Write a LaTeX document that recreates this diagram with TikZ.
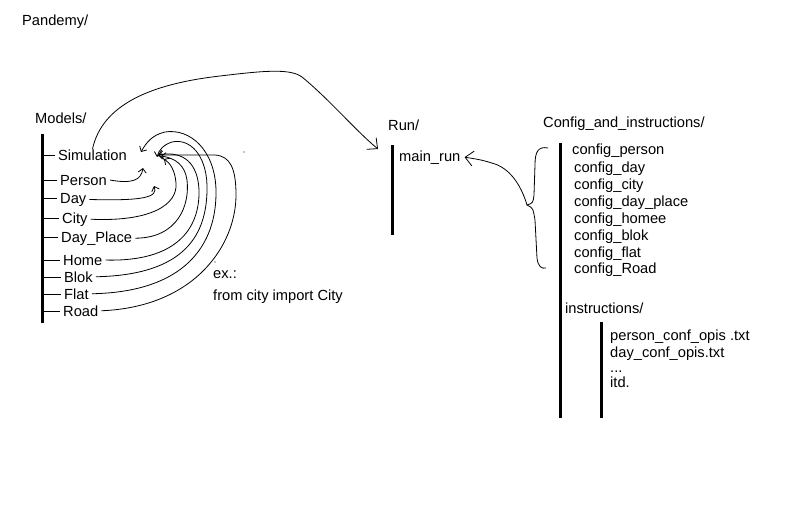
\documentclass[tikz,border=0pt]{standalone}
\usepackage{fontspec}
\setmainfont{Liberation Sans}
\usetikzlibrary{arrows.meta}

\tikzset{
  lbl/.style={anchor=base west, inner sep=0pt, font=\fontsize{14.67}{17}\selectfont},
  bar/.style={line width=3pt},
  wire/.style={line width=0.8pt},
  tip/.style={wire, -{Straight Barb[length=4pt,width=8pt]}},
  bigtip/.style={wire, -{Straight Barb[length=8pt,width=15pt]}},
}

\begin{document}
\begin{tikzpicture}[x=1pt,y=-1pt]
  \useasboundingbox (0,0) rectangle (804,515);

  % Root folder
  \node[lbl] (pandemy) at (22,25) {Pandemy/};

  % Models folder
  \node[lbl] (models) at (35,123) {Models/};
  \draw[bar] (42,134) -- (42,323);
  \foreach \name/\txt/\x/\y in {sim/Simulation/58/160, person/Person/60/185, day/Day/60/203, city/City/62/223, dayplace/Day\_Place/61/242, home/Home/63/265, blok/Blok/64/282, flat/Flat/64/299, road/Road/63/316} {
    \node[lbl] (\name) at (\x,\y) {\txt};
    \draw[wire] (43,\y-5) -- (\x-3,\y-5);
  }

  % Run folder
  \node[lbl] (run) at (388,130) {Run/};
  \draw[bar] (392,145) -- (392,235);
  \node[lbl] (mainrun) at (399,161) {main\_run};

  % Config folder
  \node[lbl] (config) at (543,127) {Config\_and\_instructions/};
  \draw[bar] (560,143) -- (560,418);
  \foreach \name/\txt/\x/\y in {cperson/person/572/154, cday/day/574/172, ccity/city/574/189, cdayplace/day\_place/574/206, chomee/homee/574/223, cblok/blok/574/240, cflat/flat/574/257, croad/Road/574/273}
    \node[lbl] (\name) at (\x,\y) {config\_\txt};

  % Instructions subfolder
  \node[lbl] (instr) at (565,313) {instructions/};
  \draw[bar] (601,322) -- (601,418);
  \node[lbl] (opis1) at (610,340) {person\_conf\_opis .txt};
  \node[lbl] (opis2) at (610,357) {day\_conf\_opis.txt};
  \node[lbl] (dots) at (610,372) {...};
  \node[lbl] (itd) at (610,387) {itd.};

  % Example import
  \node[lbl] (ex) at (213,278) {ex.:};
  \node[lbl] (imp) at (213,300) {from city import City};

  % Arrow ends next to Simulation
  \coordinate (tperson) at (143,168);
  \coordinate (tday) at (154,186);
  \coordinate (tcity) at (164,159);
  \coordinate (tdp) at (161,156);
  \coordinate (thome) at (158,155);
  \coordinate (tblok) at (157,157);
  \coordinate (tflat) at (141,152);
  \coordinate (troad) at (158,155);
  \coordinate (runin) at (378,149);
  \coordinate (brace) at (527,205);

  % Imports into Simulation
  \draw[tip] ([xshift=3pt]person.east) .. controls (133,184) and (141,180) .. (tperson);
  \draw[tip] ([xshift=3pt]day.east) .. controls (145,201) and (158,197) .. (tday);
  \draw[tip] ([xshift=3pt]city.east) .. controls (150,222) and (178,205) .. (176,183) .. controls (175,170) and (170,163) .. (tcity);
  \draw[tip] ([xshift=3pt]dayplace.east) .. controls (178,238) and (190,205) .. (187,180) .. controls (185,165) and (175,158) .. (tdp);
  \draw[tip] ([xshift=3pt]home.east) .. controls (175,262) and (200,230) .. (199,190) .. controls (198,165) and (185,150) .. (thome);
  \draw[tip] ([xshift=3pt]blok.east) .. controls (185,275) and (208,235) .. (207,185) .. controls (206,155) and (190,138) .. (172,142) .. controls (163,145) and (159,150) .. (tblok);
  \draw[tip] ([xshift=3pt]flat.east) .. controls (185,292) and (217,245) .. (216,190) .. controls (215,150) and (190,128) .. (165,132) .. controls (152,135) and (146,143) .. (tflat);
  \draw[tip] ([xshift=3pt]road.east) .. controls (195,307) and (236,245) .. (236,195) .. controls (236,168) and (230,156) .. (215,155) -- (troad);

  % Simulation into main_run
  \draw[bigtip] (sim.north) .. controls (102,105) and (150,84) .. (220,76) .. controls (262,71) and (290,68) .. (302,77) .. controls (330,100) and (355,130) .. (runin);

  % Configs into main_run
  \draw[wire] (548,148) .. controls (538,146) and (535,152) .. (535,165) -- (534,195) .. controls (533,203) .. (brace) .. controls (533,208) .. (535,220) -- (537,258) .. controls (538,267) and (542,269) .. (546,268);
  \draw[bigtip] (brace) .. controls (522,188) and (512,170) .. (495,164) .. controls (482,160) .. ([xshift=4pt]mainrun.east);

  % Stray dots
  \fill (244,152) circle (0.7pt);
  \fill (215,262) circle (0.7pt);
\end{tikzpicture}
\end{document}
